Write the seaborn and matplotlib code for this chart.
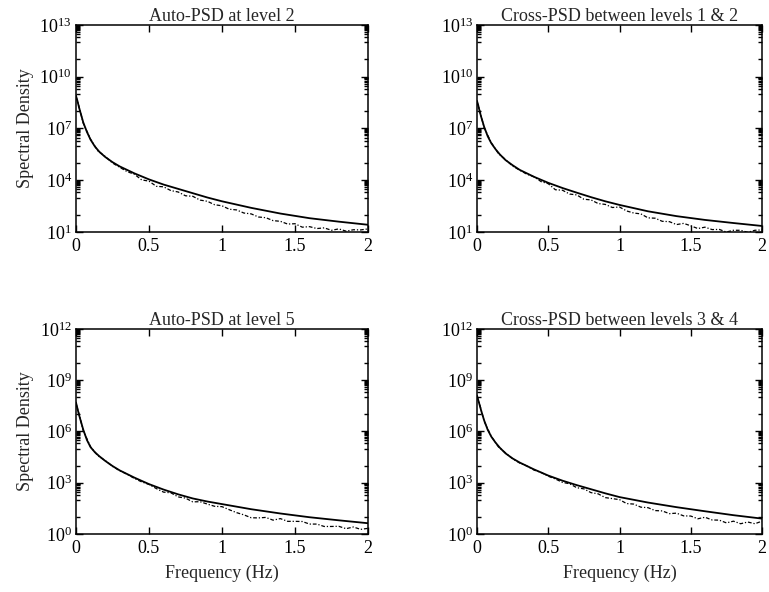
import numpy as np
import pandas as pd
import matplotlib
matplotlib.use("Agg")
import matplotlib.pyplot as plt
import matplotlib.ticker as mticker
import seaborn as sns

# ---- data (log10 of spectral density) ----
freq_solid = [0, 0.01, 0.02, 0.03, 0.05, 0.075, 0.1, 0.13, 0.16, 0.2, 0.25, 0.3,
              0.4, 0.5, 0.6, 0.7, 0.8, 0.9, 1.0, 1.2, 1.4, 1.6, 1.8, 2.0]
freq_dash = [0.0, 0.02, 0.05, 0.1, 0.15, 0.2, 0.25, 0.3, 0.35, 0.4, 0.45, 0.5,
             0.55, 0.6, 0.65, 0.7, 0.75, 0.8, 0.85, 0.9, 0.95, 1.0, 1.05, 1.1,
             1.15, 1.2, 1.25, 1.3, 1.35, 1.4, 1.45, 1.5, 1.55, 1.6, 1.65, 1.7,
             1.75, 1.8, 1.85, 1.9, 1.95, 2.0]

auto2_solid = [8.9, 8.6, 8.25, 7.95, 7.35, 6.8, 6.35, 5.95, 5.65, 5.35, 5.05, 4.8,
               4.4, 4.05, 3.75, 3.5, 3.25, 3.0, 2.78, 2.4, 2.07, 1.8, 1.6, 1.42]
auto2_dash = [8.85, 8.3, 7.3, 6.38, 5.7, 5.38, 5.0, 4.75, 4.5, 4.35, 4.02, 3.95,
              3.65, 3.62, 3.4, 3.32, 3.1, 3.07, 2.85, 2.78, 2.58, 2.52, 2.32, 2.28,
              2.1, 2.05, 1.87, 1.83, 1.66, 1.62, 1.46, 1.48, 1.28, 1.31, 1.2, 1.24,
              1.1, 1.18, 1.05, 1.13, 1.12, 1.18]

cross12_solid = [8.6, 8.3, 7.95, 7.65, 7.1, 6.55, 6.15, 5.8, 5.5, 5.17, 4.87, 4.6,
                 4.2, 3.85, 3.55, 3.28, 3.02, 2.78, 2.57, 2.2, 1.92, 1.7, 1.52, 1.35]
cross12_dash = [8.55, 8.0, 7.05, 6.18, 5.55, 5.2, 4.82, 4.58, 4.35, 4.2, 3.92, 3.8,
                3.45, 3.42, 3.2, 3.15, 2.9, 2.86, 2.65, 2.6, 2.42, 2.45, 2.22, 2.1,
                2.05, 1.82, 1.8, 1.62, 1.6, 1.43, 1.5, 1.36, 1.2, 1.28, 1.14, 1.15,
                1.0, 1.1, 1.1, 0.98, 1.1, 1.12]

auto5_solid = [7.7, 7.35, 7.0, 6.7, 6.1, 5.5, 5.08, 4.78, 4.55, 4.28, 3.98, 3.72,
               3.3, 2.92, 2.6, 2.32, 2.08, 1.9, 1.75, 1.45, 1.2, 0.98, 0.8, 0.63]
auto5_dash = [7.65, 7.05, 6.05, 5.1, 4.58, 4.3, 3.96, 3.7, 3.5, 3.25, 3.05, 2.9,
              2.66, 2.45, 2.41, 2.17, 2.1, 1.88, 1.89, 1.75, 1.62, 1.6, 1.42, 1.25,
              1.12, 0.95, 0.94, 0.97, 0.81, 0.9, 0.74, 0.74, 0.73, 0.58, 0.58, 0.44,
              0.44, 0.45, 0.31, 0.41, 0.27, 0.33]

cross34_solid = [8.1, 7.8, 7.5, 7.2, 6.65, 6.1, 5.7, 5.35, 5.05, 4.72, 4.42, 4.18,
                 3.78, 3.42, 3.12, 2.86, 2.62, 2.38, 2.16, 1.84, 1.57, 1.33, 1.1, 0.9]
cross34_dash = [8.05, 7.55, 6.6, 5.72, 5.1, 4.75, 4.4, 4.15, 3.98, 3.74, 3.6, 3.38,
                3.22, 3.02, 2.94, 2.71, 2.64, 2.42, 2.35, 2.13, 2.07, 2.01, 1.78, 1.75,
                1.57, 1.54, 1.37, 1.35, 1.19, 1.22, 1.06, 1.05, 0.89, 0.98, 0.82, 0.81,
                0.65, 0.75, 0.6, 0.7, 0.6, 0.75]

titles = ["Auto-PSD at level 2", "Cross-PSD between levels 1 & 2",
          "Auto-PSD at level 5", "Cross-PSD between levels 3 & 4"]
x_ticks = [0, 0.5, 1, 1.5, 2]
x_ticklabels = ["0", "0.5", "1", "1.5", "2"]
top_decades = (1, 13)      # y range of the top row, as exponents
bottom_decades = (0, 12)   # y range of the bottom row

# ---- style ----
sns.set_style("ticks")
plt.rcParams['font.family'] = ['Liberation Serif', 'DejaVu Serif']
plt.rcParams['mathtext.fontset'] = 'custom'
plt.rcParams['mathtext.rm'] = 'Liberation Serif'
plt.rcParams['mathtext.it'] = 'Liberation Serif:italic'
plt.rcParams['axes.edgecolor'] = 'black'
plt.rcParams['axes.linewidth'] = 1.1

fig = plt.figure(figsize=(7.69, 5.92), dpi=100)

panels = [
    ([0.0988, 0.6081, 0.3797, 0.3497], auto2_solid, auto2_dash, top_decades),
    ([0.6203, 0.6081, 0.3706, 0.3497], cross12_solid, cross12_dash, top_decades),
    ([0.0988, 0.0980, 0.3797, 0.3463], auto5_solid, auto5_dash, bottom_decades),
    ([0.6203, 0.0980, 0.3706, 0.3463], cross34_solid, cross34_dash, bottom_decades),
]

for i, (rect, solid, dash, (lo, hi)) in enumerate(panels):
    ax = fig.add_axes(rect)
    df_s = pd.DataFrame({'f': freq_solid, 'psd': 10.0 ** np.array(solid)})
    df_d = pd.DataFrame({'f': freq_dash, 'psd': 10.0 ** np.array(dash)})
    sns.lineplot(data=df_s, x='f', y='psd', ax=ax, color='black', linewidth=1.3)
    sns.lineplot(data=df_d, x='f', y='psd', ax=ax, color='black', linewidth=0.9,
                 linestyle=(0, (3, 1.5, 1, 1.5)))
    ax.set_yscale('log')
    ax.set_xlim(0, 2)
    ax.set_ylim(10.0 ** lo, 10.0 ** hi)

    # major ticks every 3 decades, minor at every decade plus a cluster below each major
    majors = list(range(lo, hi + 1, 3))
    ax.yaxis.set_major_locator(mticker.FixedLocator([10.0 ** m for m in majors]))
    ax.yaxis.set_major_formatter(mticker.LogFormatterMathtext())
    minors = [10.0 ** k for k in range(lo, hi + 1) if k not in majors]
    for m in majors[1:]:
        minors += [s * 10.0 ** (m - 1) for s in range(2, 10)]
    ax.yaxis.set_minor_locator(mticker.FixedLocator(minors))
    ax.yaxis.set_minor_formatter(mticker.NullFormatter())

    ax.set_xticks(x_ticks)
    ax.set_xticklabels(x_ticklabels)
    ax.tick_params(which='both', direction='in', top=True, right=True,
                   labelsize=13, colors='black', width=1.0)
    ax.tick_params(which='major', length=5, pad=4)
    ax.tick_params(which='minor', length=3)
    ax.tick_params(axis='y', pad=3)

    ax.set_title(titles[i], fontsize=13, pad=1)
    ax.set_xlabel("Frequency (Hz)" if i >= 2 else "", fontsize=13, labelpad=6)
    ax.set_ylabel("Spectral Density" if i % 2 == 0 else "", fontsize=13, labelpad=4)
    for sp in ax.spines.values():
        sp.set_visible(True)

fig.savefig("out.png", dpi=100)
